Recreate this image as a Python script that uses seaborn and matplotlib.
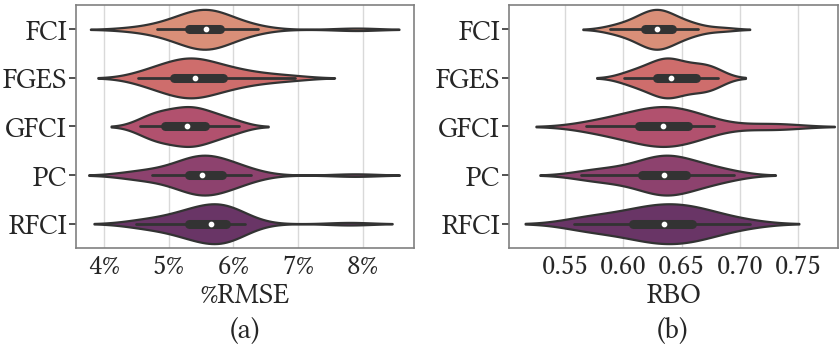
import numpy as np
import pandas as pd
import matplotlib
matplotlib.use("Agg")
import matplotlib.pyplot as plt
import seaborn as sns
from matplotlib.ticker import FuncFormatter

methods = ["FCI", "FGES", "GFCI", "PC", "RFCI"]

rmse_fci = [4.45, 4.82, 4.95, 5.05, 5.15, 5.22, 5.3, 5.35, 5.4, 5.45, 5.5, 5.53, 5.56, 5.58,
            5.6, 5.63, 5.66, 5.7, 5.75, 5.8, 5.86, 5.95, 6.05, 6.2, 6.38, 7.9]
rmse_fges = [4.52, 4.65, 4.78, 4.88, 4.95, 5.0, 5.06, 5.12, 5.2, 5.26, 5.3, 5.34, 5.38, 5.41,
             5.44, 5.5, 5.55, 5.62, 5.7, 5.8, 5.88, 5.95, 6.05, 6.2, 6.4, 6.6, 6.95]
rmse_gfci = [4.56, 4.64, 4.72, 4.8, 4.86, 4.91, 4.96, 5.03, 5.1, 5.17, 5.22, 5.26, 5.3, 5.34,
             5.39, 5.44, 5.5, 5.55, 5.6, 5.68, 5.76, 5.86, 5.97, 6.09]
rmse_pc = [4.45, 4.53, 4.75, 4.95, 5.1, 5.2, 5.3, 5.36, 5.4, 5.43, 5.46, 5.48, 5.5, 5.52,
           5.55, 5.6, 5.66, 5.72, 5.78, 5.85, 5.92, 5.97, 6.05, 6.15, 6.27, 7.88]
rmse_rfci = [4.5, 4.63, 4.85, 5.0, 5.12, 5.22, 5.3, 5.35, 5.4, 5.45, 5.5, 5.56, 5.62, 5.7,
             5.74, 5.77, 5.8, 5.83, 5.86, 5.89, 5.92, 5.96, 6.02, 6.1, 6.18, 7.8]

rbo_fci = [0.5886, 0.598, 0.605, 0.61, 0.614, 0.617, 0.62, 0.622, 0.624, 0.626, 0.628, 0.629,
           0.631, 0.633, 0.635, 0.637, 0.64, 0.643, 0.647, 0.652, 0.658, 0.6643, 0.685]
rbo_fges = [0.6009, 0.607, 0.613, 0.618, 0.622, 0.626, 0.629, 0.632, 0.634, 0.636, 0.638, 0.6395,
            0.6406, 0.643, 0.646, 0.65, 0.654, 0.658, 0.662, 0.666, 0.669, 0.672, 0.675, 0.678, 0.6809]
rbo_gfci = [0.568, 0.58, 0.59, 0.598, 0.605, 0.611, 0.616, 0.62, 0.624, 0.628, 0.632, 0.6343,
            0.637, 0.641, 0.645, 0.649, 0.653, 0.657, 0.663, 0.67, 0.6777, 0.718, 0.738]
rbo_pc = [0.5637, 0.575, 0.585, 0.595, 0.603, 0.61, 0.618, 0.621, 0.625, 0.628, 0.631, 0.634,
          0.6363, 0.639, 0.642, 0.645, 0.649, 0.653, 0.657, 0.662, 0.668, 0.675, 0.683, 0.6951]
rbo_rfci = [0.5577, 0.568, 0.578, 0.588, 0.597, 0.605, 0.612, 0.617, 0.622, 0.626, 0.63, 0.6351,
            0.639, 0.643, 0.648, 0.653, 0.657, 0.661, 0.666, 0.672, 0.68, 0.69, 0.7086]

rmse_lists = [rmse_fci, rmse_fges, rmse_gfci, rmse_pc, rmse_rfci]
rbo_lists = [rbo_fci, rbo_fges, rbo_gfci, rbo_pc, rbo_rfci]

def long_df(lists, col):
    rows = []
    for m, vals in zip(methods, lists):
        for v in vals:
            rows.append({"method": m, col: v})
    return pd.DataFrame(rows)

df_rmse = long_df(rmse_lists, "rmse")
df_rbo = long_df(rbo_lists, "rbo")

sns.set_theme(style="whitegrid")
plt.rcParams["font.family"] = "serif"
plt.rcParams["font.serif"] = ["Libertinus Serif", "Liberation Serif", "DejaVu Serif"]
plt.rcParams["axes.edgecolor"] = "0.5"
plt.rcParams["grid.color"] = "0.85"

W, H = 839, 346
fig = plt.figure(figsize=(W / 100, H / 100), dpi=100)
ax1 = fig.add_axes([76 / W, (H - 248) / H, (414 - 76) / W, (248 - 5) / H])
ax2 = fig.add_axes([509 / W, (H - 248) / H, (838 - 509) / W, (248 - 5) / H])

pal = sns.color_palette("flare", 5)
common = dict(y="method", hue="method", order=methods, hue_order=methods, palette=pal,
              legend=False, density_norm="width", linewidth=1.6, linecolor=".2",
              inner="box", width=0.82,
              inner_kws=dict(box_width=6.5, whis_width=2.0, marker="o", markersize=2.8,
                             solid_capstyle="round"))

sns.violinplot(data=df_rmse, x="rmse", ax=ax1, **common)
sns.violinplot(data=df_rbo, x="rbo", ax=ax2, **common)

FS = 21
ax1.set_xlim(3.57, 8.79)
ax1.set_xticks([4, 5, 6, 7, 8])
ax1.xaxis.set_major_formatter(FuncFormatter(lambda v, p: f"{v:.0f}%"))
ax1.set_xlabel("%RMSE", fontsize=FS, labelpad=1)
ax2.set_xlim(0.502, 0.784)
ax2.set_xticks([0.55, 0.60, 0.65, 0.70, 0.75])
ax2.xaxis.set_major_formatter(FuncFormatter(lambda v, p: f"{v:.2f}"))
ax2.set_xlabel("RBO", fontsize=FS, labelpad=1)

for ax in (ax1, ax2):
    ax.set_ylabel("")
    ax.set_ylim(4.5, -0.5)
    ax.tick_params(axis="both", labelsize=FS)
    ax.yaxis.set_ticks_position("left")
    ax.tick_params(axis="y", which="major", left=True, length=5, width=1.2, color="0.2", pad=1.5)
    for t in ax.yaxis.get_major_ticks():
        t.tick1line.set_visible(True)
        t.tick1line.set_markeredgecolor("0.2")
    ax.tick_params(axis="x", length=0, pad=3.5)
    for s in ax.spines.values():
        s.set_color("0.5")
        s.set_linewidth(1.2)

fig.text(245 / W, 1 - 331 / H, "(a)", ha="center", va="center", fontsize=FS)
fig.text(673 / W, 1 - 331 / H, "(b)", ha="center", va="center", fontsize=FS)

fig.savefig("out.png", dpi=100)
